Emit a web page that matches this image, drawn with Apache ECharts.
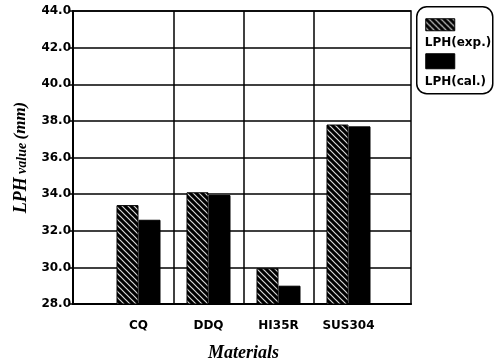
<!DOCTYPE html>
<html>
<head>
<meta charset="utf-8">
<script src="https://cdn.jsdelivr.net/npm/echarts@6/dist/echarts.min.js"></script>
<style>
  html, body { margin: 0; padding: 0; background: #fff; }
  #chart { width: 495px; height: 363px; }
</style>
</head>
<body>
<div id="chart"></div>
<script>
// Materials and measured / calculated LPH values (mm)
const categories = ['CQ', 'DDQ', 'HI35R', 'SUS304'];
const lphExp = [33.4, 34.1, 29.95, 37.8];
const lphCal = [32.6, 33.95, 29.0, 37.7];
const seriesNames = ['LPH(exp.)', 'LPH(cal.)'];
const yMin = 28, yMax = 44, yStep = 2;

// Diagonal hatch used for the experimental bars
function makeHatch() {
  const c = document.createElement('canvas');
  const s = 6;
  c.width = s; c.height = s;
  const g = c.getContext('2d');
  g.fillStyle = '#000';
  g.fillRect(0, 0, s, s);
  g.strokeStyle = '#d8d8d8';
  g.lineWidth = 1.2;
  g.beginPath();
  g.moveTo(-1, -1); g.lineTo(s + 1, s + 1);
  g.moveTo(-1 - s, -1); g.lineTo(1, s + 1);
  g.moveTo(s - 1, -1); g.lineTo(2 * s + 1, s + 1);
  g.stroke();
  return c;
}
const hatch = { image: makeHatch(), repeat: 'repeat' };

const chart = echarts.init(document.getElementById('chart'), null, { renderer: 'canvas' });
const sans = 'DejaVu Sans, Arial, sans-serif';
const serif = 'Liberation Serif, Times New Roman, serif';

chart.setOption({
  animation: false,
  backgroundColor: '#fff',
  grid: [
    // outer frame with horizontal grid lines
    { left: 73, right: 84, top: 11, bottom: 59, show: true, borderColor: '#000', borderWidth: 1.5,
      backgroundColor: 'transparent', containLabel: false, outerBoundsMode: 'none' },
    // inner band holding the category columns
    { left: 103.5, right: 111.5, top: 11, bottom: 59, containLabel: false, outerBoundsMode: 'none' }
  ],
  xAxis: [
    {
      gridIndex: 0, type: 'value', min: 0, max: 1,
      axisLine: { show: true, lineStyle: { color: '#000', width: 2 } },
      axisTick: { show: false }, axisLabel: { show: false }, splitLine: { show: false }
    },
    {
      gridIndex: 1, type: 'category', data: categories, boundaryGap: true,
      axisLine: { show: false },
      axisTick: { show: false },
      axisLabel: { margin: 16, color: '#000', fontFamily: sans, fontWeight: 'bold', fontSize: 12 },
      splitLine: { show: true, showMinLine: false, showMaxLine: false, lineStyle: { color: '#000', width: 1.5 } },
      name: 'Materials', nameLocation: 'middle', nameGap: 40,
      nameTextStyle: { fontFamily: serif, fontStyle: 'italic', fontWeight: 'bold', fontSize: 18, color: '#000' }
    }
  ],
  yAxis: [
    {
      gridIndex: 0, type: 'value', min: yMin, max: yMax, interval: yStep,
      axisLine: { show: true, lineStyle: { color: '#000', width: 2 } },
      axisTick: { show: true, inside: false, length: 4, lineStyle: { color: '#000', width: 1.5 } },
      axisLabel: { margin: 2, color: '#000', fontFamily: sans, fontWeight: 'bold', fontSize: 12,
        formatter: v => v.toFixed(1) },
      splitLine: { show: true, lineStyle: { color: '#000', width: 1.5 } },
      name: '{a|LPH} {b|value} {c|(mm)}', nameLocation: 'middle', nameGap: 43, nameRotate: 90,
      nameTextStyle: {
        color: '#000',
        rich: {
          a: { fontFamily: serif, fontStyle: 'italic', fontWeight: 'bold', fontSize: 18, color: '#000' },
          b: { fontFamily: serif, fontStyle: 'italic', fontWeight: 'bold', fontSize: 14, color: '#000', padding: [3, 0, 0, 0] },
          c: { fontFamily: serif, fontStyle: 'italic', fontWeight: 'bold', fontSize: 17, color: '#000' }
        }
      }
    },
    {
      gridIndex: 1, type: 'value', min: yMin, max: yMax, interval: yStep,
      show: false, splitLine: { show: false }
    }
  ],
  series: [
    {
      name: seriesNames[0], type: 'bar', xAxisIndex: 1, yAxisIndex: 1,
      data: lphExp, barWidth: 22, barGap: '0%',
      itemStyle: { color: hatch, borderColor: '#000', borderWidth: 1 }
    },
    {
      name: seriesNames[1], type: 'bar', xAxisIndex: 1, yAxisIndex: 1,
      data: lphCal, barWidth: 22, barGap: '0%',
      itemStyle: { color: '#000', borderColor: '#000', borderWidth: 1 }
    }
  ],
  graphic: [
    {
      type: 'group', left: 416, top: 6,
      children: [
        { type: 'rect', shape: { x: 0, y: 0, width: 76, height: 87, r: 10 },
          style: { fill: '#fff', stroke: '#000', lineWidth: 1.5 } },
        { type: 'rect', shape: { x: 9, y: 12, width: 29, height: 12 },
          style: { fill: hatch, stroke: '#000', lineWidth: 1 } },
        { type: 'text', x: 8, y: 36, style: { text: seriesNames[0], fill: '#000',
          font: 'bold 12px ' + sans, verticalAlign: 'middle' } },
        { type: 'rect', shape: { x: 9, y: 47, width: 29, height: 15 },
          style: { fill: '#000', stroke: '#000', lineWidth: 1 } },
        { type: 'text', x: 8, y: 75, style: { text: seriesNames[1], fill: '#000',
          font: 'bold 12px ' + sans, verticalAlign: 'middle' } }
      ]
    }
  ]
});
</script>
</body>
</html>
